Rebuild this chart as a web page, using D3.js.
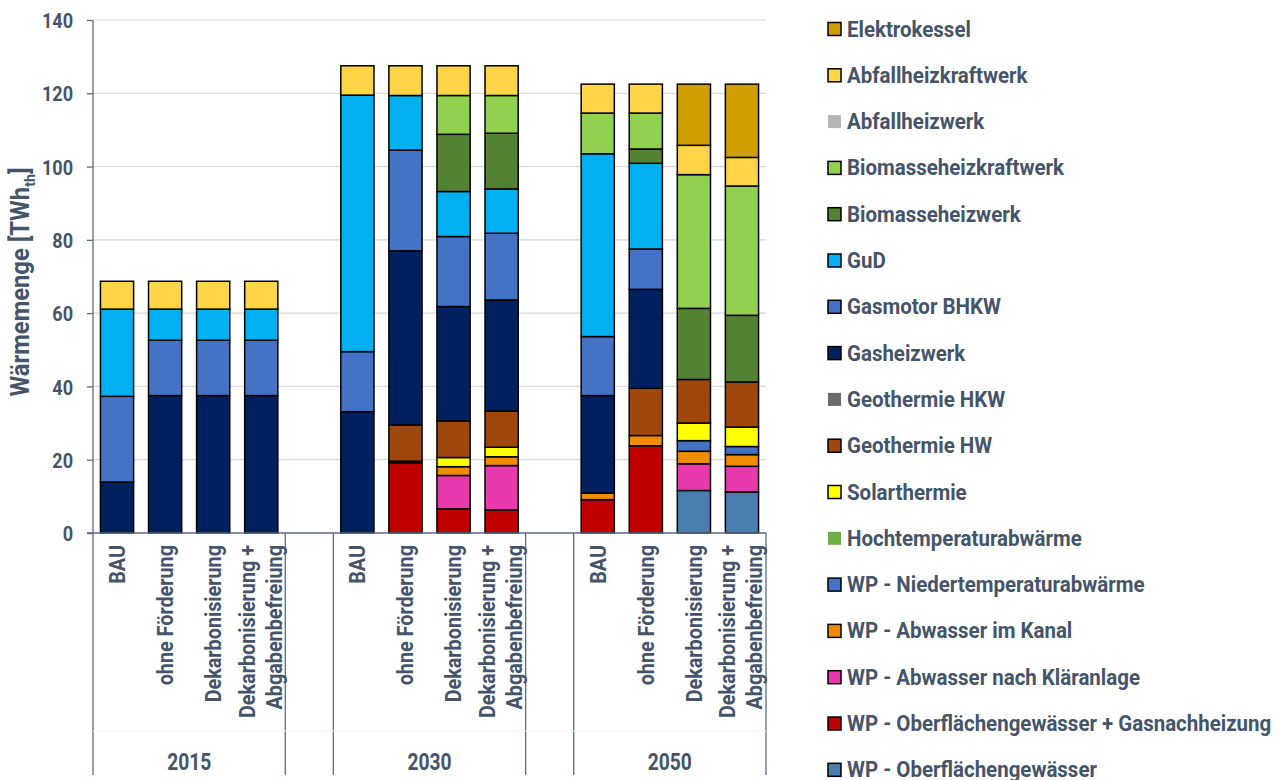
<!DOCTYPE html>
<html>
<head>
<meta charset="utf-8">
<script src="https://cdn.jsdelivr.net/npm/d3@7"></script>
<style>
  body { margin: 0; background: #fff; }
  svg text { font-family: "Roboto", "Liberation Sans", sans-serif; font-weight: bold; fill: #44546a; }
</style>
</head>
<body>
<svg id="chart" width="1285" height="780"></svg>
<script>
// categories
const years = ["2015", "2030", "2050"];
const scenarios = ["BAU", "ohne Förderung", "Dekarbonisierung", "Dekarbonisierung + Abgabenbefreiung"];
const yTicks = [0, 20, 40, 60, 80, 100, 120, 140];

// series, bottom of stack first; 12 values = 3 years x 4 scenarios
const seriesNames = [
  "WP - Oberflächengewässer",
  "WP - Oberflächengewässer + Gasnachheizung",
  "WP - Abwasser nach Kläranlage",
  "WP - Abwasser im Kanal",
  "WP - Niedertemperaturabwärme",
  "Hochtemperaturabwärme",
  "Solarthermie",
  "Geothermie HW",
  "Geothermie HKW",
  "Gasheizwerk",
  "Gasmotor BHKW",
  "GuD",
  "Biomasseheizwerk",
  "Biomasseheizkraftwerk",
  "Abfallheizwerk",
  "Abfallheizkraftwerk",
  "Elektrokessel"
];
const wpOberfl      = [0, 0, 0, 0,   0, 0, 0, 0,   0, 0, 11.6, 11.2];
const wpOberflGas   = [0, 0, 0, 0,   0, 19.2, 6.6, 6.3,   9.1, 23.8, 0, 0];
const wpKlaer       = [0, 0, 0, 0,   0, 0, 9.1, 12.1,   0, 0, 7.3, 7.0];
const wpKanal       = [0, 0, 0, 0,   0, 0.4, 2.4, 2.4,   1.8, 2.8, 3.4, 3.2];
const wpNieder      = [0, 0, 0, 0,   0, 0, 0, 0,   0, 0, 2.9, 2.2];
const hochtemp      = [0, 0, 0, 0,   0, 0, 0, 0,   0, 0, 0, 0];
const solar         = [0, 0, 0, 0,   0, 0, 2.5, 2.6,   0, 0, 4.8, 5.3];
const geoHW         = [0, 0, 0, 0,   0, 9.9, 10.0, 9.9,   0, 12.9, 11.9, 12.3];
const geoHKW        = [0, 0, 0, 0,   0, 0, 0, 0,   0, 0, 0, 0];
const gasheizwerk   = [13.9, 37.5, 37.5, 37.5,   33.1, 47.5, 31.2, 30.3,   26.6, 27.0, 0, 0];
const gasmotor      = [23.4, 15.1, 15.1, 15.1,   16.4, 27.5, 19.1, 18.2,   16.1, 11.0, 0, 0];
const gud           = [23.8, 8.5, 8.5, 8.5,   70.0, 14.9, 12.3, 12.1,   49.9, 23.4, 0, 0];
const bioHW         = [0, 0, 0, 0,   0, 0, 15.6, 15.2,   0, 3.9, 19.4, 18.2];
const bioHKW        = [0, 0, 0, 0,   0, 0, 10.6, 10.3,   11.1, 9.8, 36.5, 35.3];
const abfallHW      = [0, 0, 0, 0,   0, 0, 0, 0,   0, 0, 0, 0];
const abfallHKW     = [7.6, 7.6, 7.6, 7.6,   8.0, 8.1, 8.1, 8.1,   7.9, 7.9, 8.0, 7.8];
const elektro       = [0, 0, 0, 0,   0, 0, 0, 0,   0, 0, 16.7, 20.0];

const seriesValues = [wpOberfl, wpOberflGas, wpKlaer, wpKanal, wpNieder, hochtemp, solar,
  geoHW, geoHKW, gasheizwerk, gasmotor, gud, bioHW, bioHKW, abfallHW, abfallHKW, elektro];

const colors = ["#4a7eae", "#c00000", "#e83aac", "#f08c00", "#4472c4", "#70ad47", "#ffff00",
  "#9e480e", "#6b6b6b", "#002060", "#4472c4", "#00b0f0", "#548235", "#92d050", "#b5b5b5", "#ffd447", "#d09e00"];

const svg = d3.select("#chart");
const plot = { left: 93, right: 766, top: 20, bottom: 533 };
const axisColor = "#5b6b80";

// 14 slots: 4 bars per year and one empty slot between years
const slots = [];
years.forEach((yr, i) => {
  scenarios.forEach(sc => slots.push(yr + "|" + sc));
  if (i < years.length - 1) slots.push("gap" + i);
});

const x = d3.scaleBand().domain(slots).range([plot.left, plot.right]).paddingInner(0.31).paddingOuter(0.155);
const y = d3.scaleLinear().domain([0, 140]).range([plot.bottom, plot.top]);

// rows for stack
const rows = [];
years.forEach((yr, yi) => scenarios.forEach((sc, si) => {
  const row = { key: yr + "|" + sc };
  seriesNames.forEach((name, k) => row[name] = seriesValues[k][yi * 4 + si]);
  rows.push(row);
}));
const stacked = d3.stack().keys(seriesNames)(rows);

// gridlines
svg.append("g")
  .selectAll("line")
  .data(yTicks.filter(d => d > 0))
  .join("line")
  .attr("x1", plot.left).attr("x2", plot.right)
  .attr("y1", d => y(d)).attr("y2", d => y(d))
  .attr("stroke", "#d9d9d9").attr("stroke-width", 1.2);

// bars
svg.append("g")
  .selectAll("g")
  .data(stacked)
  .join("g")
  .attr("fill", (d, i) => colors[i])
  .selectAll("rect")
  .data(d => d.filter(p => p[1] - p[0] > 0))
  .join("rect")
  .attr("x", d => x(d.data.key))
  .attr("width", x.bandwidth())
  .attr("y", d => y(d[1]))
  .attr("height", d => y(d[0]) - y(d[1]))
  .attr("stroke", "#000")
  .attr("stroke-width", 1.5);

// y axis
const yAxis = svg.append("g")
  .attr("transform", `translate(${plot.left},0)`)
  .call(d3.axisLeft(y).tickValues(yTicks).tickSize(6));
yAxis.select(".domain").attr("stroke", axisColor).attr("stroke-width", 1.3).attr("d", `M0,${plot.top}V${plot.bottom + 242}`);
yAxis.selectAll(".tick line").attr("stroke", axisColor).attr("stroke-width", 1.3);
yAxis.selectAll(".tick text")
  .attr("font-size", 21)
  .attr("x", -20 / 0.86)
  .attr("dy", "0.36em")
  .attr("transform", "scale(0.86,1)")
  .style("fill", "#44546a");

// x baseline
svg.append("line")
  .attr("x1", plot.left - 6).attr("x2", plot.right)
  .attr("y1", plot.bottom).attr("y2", plot.bottom)
  .attr("stroke", axisColor).attr("stroke-width", 1.5);

// group separators
const step = x.step();
const seps = [];
let pos = plot.left;
years.forEach((yr, i) => {
  pos += step * 4; seps.push(pos);
  if (i < years.length - 1) { pos += step; seps.push(pos); }
});
svg.append("g")
  .selectAll("line")
  .data(seps)
  .join("line")
  .attr("x1", d => d).attr("x2", d => d)
  .attr("y1", plot.bottom).attr("y2", plot.bottom + 242)
  .attr("stroke", axisColor).attr("stroke-width", 1.3);

// faint line between label levels
svg.append("line")
  .attr("x1", plot.left).attr("x2", plot.right)
  .attr("y1", 731).attr("y2", 731)
  .attr("stroke", "#f3f3f3").attr("stroke-width", 1);

// scenario labels (rotated)
const catLabels = svg.append("g");
rows.forEach(r => {
  const sc = r.key.split("|")[1];
  const cx = x(r.key) + x.bandwidth() / 2;
  const lines = sc.includes("+") ? ["Dekarbonisierung +", "Abgabenbefreiung"] : [sc];
  const t = catLabels.append("text")
    .attr("transform", `translate(${cx},545) rotate(-90) scale(0.9,1)`)
    .attr("text-anchor", "end")
    .attr("font-size", 22);
  lines.forEach((ln, i) => {
    t.append("tspan")
      .attr("x", 0)
      .attr("dy", i === 0 ? (lines.length === 1 ? 7.8 : -6.5) : 27)
      .text(ln);
  });
});

// year labels
years.forEach(yr => {
  const first = x(yr + "|" + scenarios[0]) - x.step() * x.paddingInner() / 2;
  const cx = first + step * 2;
  svg.append("text")
    .attr("transform", `translate(${cx},770) scale(0.8,1)`)
    .attr("text-anchor", "middle")
    .attr("font-size", 24)
    .text(yr);
});

// y title
const yt = svg.append("text")
  .attr("transform", "translate(29,282) rotate(-90) scale(0.95,1)")
  .attr("text-anchor", "middle")
  .attr("font-size", 25);
yt.append("tspan").text("Wärmemenge [TWh");
yt.append("tspan").attr("font-size", 15).attr("dy", 6).text("th");
yt.append("tspan").attr("dy", -6).text("]");

// legend, top entry first
const legendOrder = seriesNames.map((n, i) => i).reverse();
const legend = svg.append("g")
  .selectAll("g")
  .data(legendOrder)
  .join("g")
  .attr("transform", (d, i) => `translate(828,${28.5 + i * 46.3})`);
legend.append("rect")
  .attr("x", 0).attr("y", -6)
  .attr("width", 13).attr("height", 13)
  .attr("fill", i => colors[i])
  .attr("stroke", i => d3.sum(seriesValues[i]) > 0 ? "#000" : "none")
  .attr("stroke-width", 1.5);
legend.append("text")
  .attr("transform", "translate(19,8) scale(0.91,1)")
  .attr("font-size", 22.5)
  .text(i => seriesNames[i]);
</script>
</body>
</html>
